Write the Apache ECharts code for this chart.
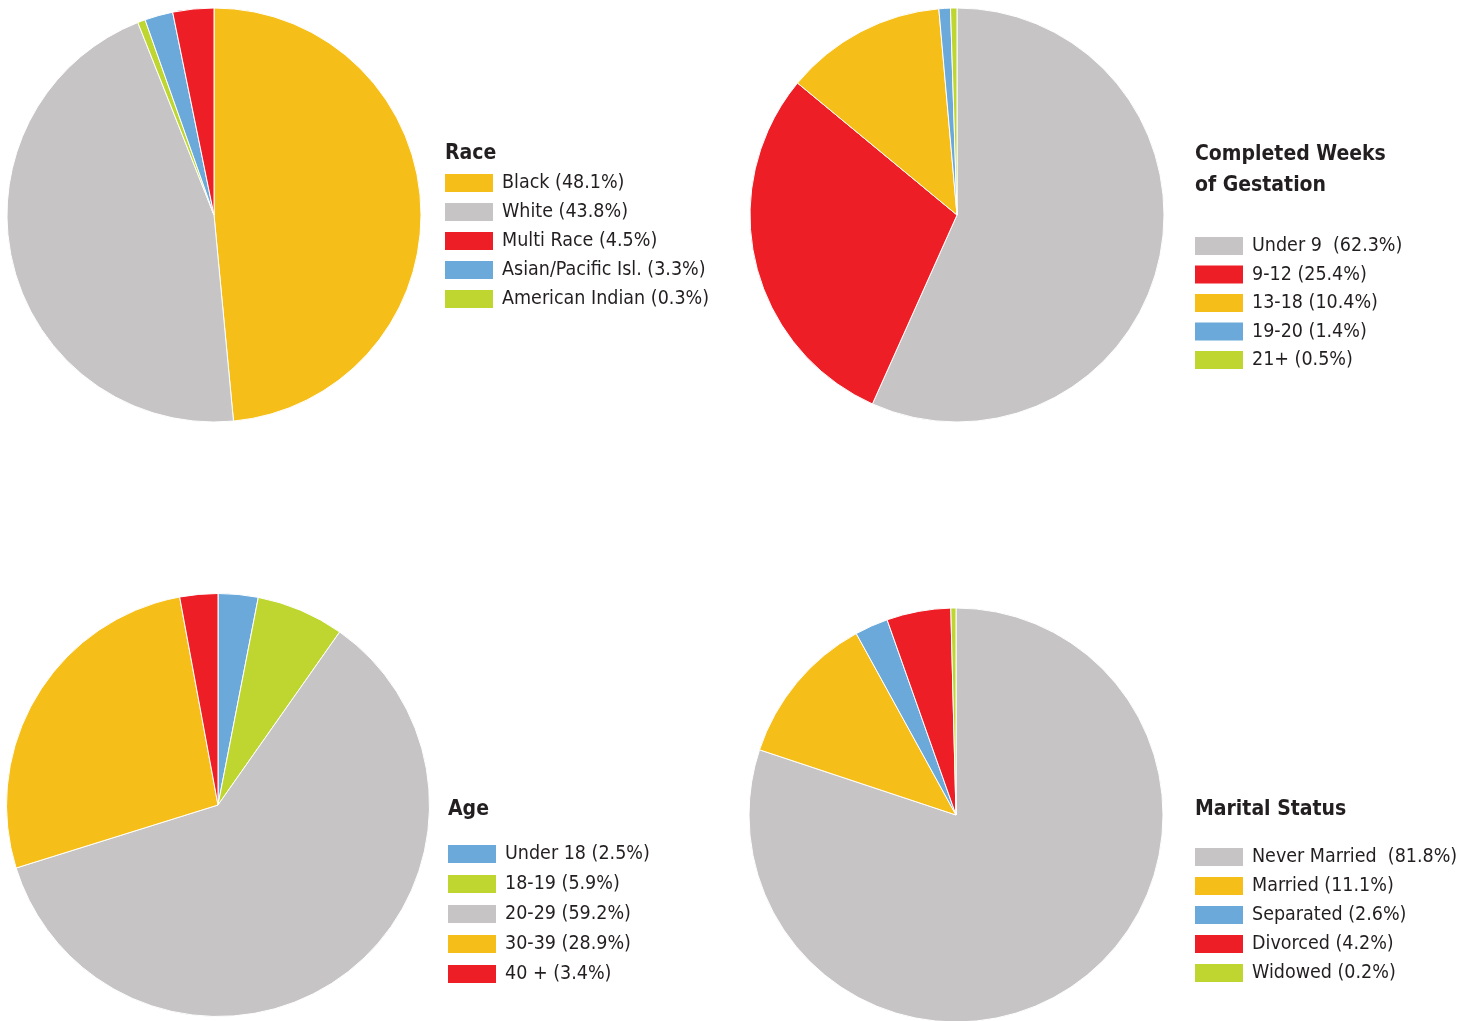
<!DOCTYPE html>
<html>
<head>
<meta charset="utf-8">
<script src="https://cdn.jsdelivr.net/npm/echarts@6/dist/echarts.min.js"></script>
<style>
  html, body { margin: 0; padding: 0; background: #ffffff; }
  #chart { width: 1468px; height: 1021px; }
</style>
</head>
<body>
<div id="chart"></div>
<script>
// ---- Data (slice order = clockwise from 12 o'clock) ----
const raceNames   = ['Black (48.1%)', 'White (43.8%)', 'American Indian (0.3%)', 'Asian/Pacific Isl. (3.3%)', 'Multi Race (4.5%)'];
const raceValues  = [48.5, 45.5, 0.6, 2.2, 3.2];
const raceLegend  = ['Black (48.1%)', 'White (43.8%)', 'Multi Race (4.5%)', 'Asian/Pacific Isl. (3.3%)', 'American Indian (0.3%)'];

const gestNames   = ['Under 9  (62.3%)', '9-12 (25.4%)', '13-18 (10.4%)', '19-20 (1.4%)', '21+ (0.5%)'];
const gestValues  = [56.7, 29.3, 12.6, 0.9, 0.5];

const ageNames    = ['Under 18 (2.5%)', '18-19 (5.9%)', '20-29 (59.2%)', '30-39 (28.9%)', '40 + (3.4%)'];
const ageValues   = [3.05, 6.7, 60.4, 26.9, 2.9];

const maritalNames  = ['Never Married  (81.8%)', 'Married (11.1%)', 'Separated (2.6%)', 'Divorced (4.2%)', 'Widowed (0.2%)'];
const maritalValues = [80.1, 11.9, 2.6, 5.0, 0.4];

// ---- Colours ----
const YELLOW = '#F6BE18', GRAY = '#C6C4C5', RED = '#EE1E26', BLUE = '#6AA9D9', GREEN = '#BFD631';
const raceColors    = [YELLOW, GRAY, GREEN, BLUE, RED];
const gestColors    = [GRAY, RED, YELLOW, BLUE, GREEN];
const ageColors     = [BLUE, GREEN, GRAY, YELLOW, RED];
const maritalColors = [GRAY, YELLOW, BLUE, RED, GREEN];

const FONT = "'DejaVu Sans Condensed', 'Liberation Sans Narrow', sans-serif";
const TEXT = '#231f20';

function mkData(names, values, colors) {
  return names.map((n, i) => ({ name: n, value: values[i], itemStyle: { color: colors[i] } }));
}
function mkPie(center, radius, names, values, colors) {
  return {
    type: 'pie', center: center, radius: radius, startAngle: 90, clockwise: true,
    silent: true, animation: false,
    label: { show: false }, labelLine: { show: false },
    itemStyle: { borderColor: '#ffffff', borderWidth: 1 },
    emphasis: { disabled: true },
    data: mkData(names, values, colors)
  };
}
function mkLegend(names, left, top, gap, textPad) {
  return {
    orient: 'vertical', left: left, top: top, icon: 'rect', padding: 0,
    itemWidth: 48, itemHeight: 18, itemGap: gap, selectedMode: false,
    itemStyle: { borderWidth: 0 },
    textStyle: { fontFamily: FONT, fontSize: 19.5, color: TEXT, padding: [0, 0, 0, textPad] },
    data: names
  };
}
function mkTitle(text, left, top) {
  return {
    text: text, left: left, top: top, padding: 0,
    textStyle: { fontFamily: FONT, fontWeight: 'bold', fontSize: 21, color: TEXT, lineHeight: 31 }
  };
}

const chart = echarts.init(document.getElementById('chart'), null, { renderer: 'canvas' });
chart.setOption({
  backgroundColor: '#ffffff',
  animation: false,
  title: [
    mkTitle('Race', 445, 138),
    mkTitle('Completed Weeks\nof Gestation', 1195, 139),
    mkTitle('Age', 448, 794),
    mkTitle('Marital Status', 1195, 794)
  ],
  legend: [
    mkLegend(raceLegend, 445, 173, 9, 4),
    mkLegend(gestNames, 1195, 236, 8.5, 4),
    mkLegend(ageNames, 448, 844, 10, 4),
    mkLegend(maritalNames, 1195, 847, 9, 4)
  ],
  series: [
    mkPie([214, 215], 207, raceNames, raceValues, raceColors),
    mkPie([957, 215], 207, gestNames, gestValues, gestColors),
    mkPie([218, 805], 211.5, ageNames, ageValues, ageColors),
    mkPie([956, 815], 207, maritalNames, maritalValues, maritalColors)
  ]
});
</script>
</body>
</html>
